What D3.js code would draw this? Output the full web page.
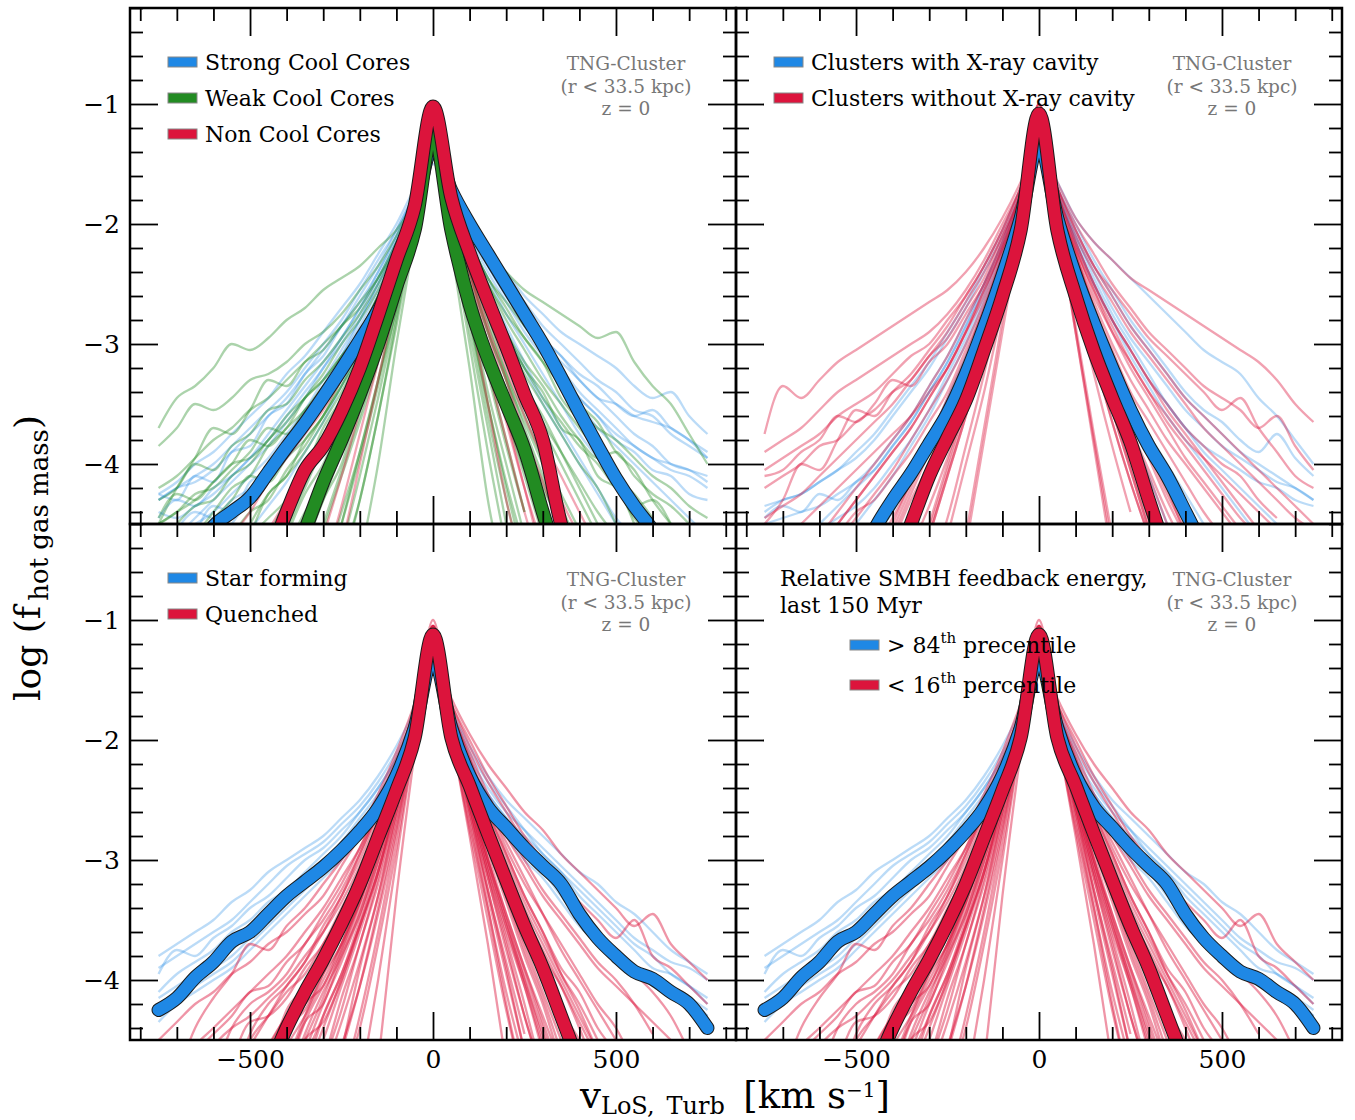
<!DOCTYPE html>
<html>
<head>
<meta charset="utf-8">
<script src="https://cdn.jsdelivr.net/npm/d3@7"></script>
<style>
  body { margin: 0; background: #fff; }
  svg text { font-family: "DejaVu Serif", serif; }
</style>
</head>
<body>
<svg id="chart" width="1355" height="1120"></svg>
<script>
// each profile: [value at v=0, [values at -50,-100,...], [values at +50,+100,...]]
// values are log(f_hot gas mass) per 50 km/s bin
var binWidth = 50;

// ---- top left: cool-core classes ----
var sccMedian = [-1.35, [-1.9,-2.4,-2.72,-2.97,-3.21,-3.44,-3.66,-3.86,-4.07,-4.28,-4.4,-4.52,-4.75], [-1.72,-2.0,-2.25,-2.5,-2.75,-3.0,-3.28,-3.57,-3.85,-4.12,-4.35,-4.55,-4.8]];
var wccMedian = [-1.22, [-2.05,-2.52,-3.0,-3.42,-3.8,-4.15,-4.55,-4.9], [-2.05,-2.67,-3.12,-3.5,-3.88,-4.4,-4.9]];
var nccMedian = [-1.02, [-1.85,-2.3,-2.76,-3.2,-3.56,-3.85,-4.05,-4.4,-4.8], [-1.78,-2.24,-2.64,-3.02,-3.42,-3.8,-4.5,-4.9]];

var sccLines = [
  [-1.4, [-1.75,-2.1,-2.4,-2.65,-2.85,-3.1,-3.25,-3.5,-3.6,-3.85,-3.9,-4.15,-4.1,-4.3,-4.25], [-1.7,-2.0,-2.3,-2.55,-2.8,-3.0,-3.2,-3.4,-3.55,-3.7,-3.85,-3.95,-4.05,-4.1,-4.2]],
  [-1.35, [-1.8,-2.2,-2.55,-2.85,-3.1,-3.35,-3.6,-3.8,-4.05,-4.15,-4.4,-4.35,-4.6], [-1.75,-2.1,-2.4,-2.65,-2.9,-3.1,-3.3,-3.5,-3.7,-3.85,-4.0,-4.15,-4.3,-4.45,-4.6]],
  [-1.3, [-1.85,-2.3,-2.7,-3.05,-3.35,-3.65,-3.9,-4.15,-4.35,-4.55], [-1.8,-2.2,-2.55,-2.85,-3.15,-3.45,-3.7,-3.95,-4.2,-4.45,-4.6]],
  [-1.45, [-1.7,-2.0,-2.25,-2.5,-2.7,-2.9,-3.1,-3.25,-3.45,-3.6,-3.75,-3.9,-4.0,-4.15,-4.25], [-1.7,-1.95,-2.2,-2.4,-2.6,-2.75,-2.9,-3.0,-3.1,-3.2,-3.35,-3.45,-3.4,-3.6,-3.75]],
  [-1.4, [-1.8,-2.15,-2.45,-2.75,-3.0,-3.2,-3.45,-3.65,-3.85,-4.0,-4.15,-4.3,-4.45,-4.6], [-1.75,-2.05,-2.35,-2.6,-2.85,-3.05,-3.25,-3.45,-3.6,-3.75,-3.85,-3.95,-4.0,-4.05,-4.15]],
  [-1.35, [-1.85,-2.25,-2.6,-2.95,-3.25,-3.5,-3.75,-3.95,-4.15,-4.3,-4.5], [-1.8,-2.2,-2.55,-2.9,-3.2,-3.5,-3.75,-4.0,-4.25,-4.5]],
  [-1.5, [-1.75,-2.05,-2.35,-2.6,-2.85,-3.05,-3.25,-3.45,-3.6,-3.75,-3.9,-4.05,-4.15,-4.2,-4.3], [-1.8,-2.1,-2.35,-2.6,-2.8,-3.0,-3.15,-3.3,-3.45,-3.5,-3.6,-3.65,-3.7,-3.8,-3.9]],
  [-1.35, [-1.8,-2.2,-2.5,-2.8,-3.05,-3.3,-3.55,-3.75,-3.95,-4.1,-4.25,-4.4,-4.5], [-1.75,-2.15,-2.45,-2.75,-3.0,-3.25,-3.5,-3.75,-3.95,-4.15,-4.35,-4.5]],
  [-1.4, [-1.8,-2.15,-2.5,-2.8,-3.1,-3.35,-3.6,-3.8,-4.0,-4.2,-4.3,-4.45,-4.4,-4.55], [-1.7,-2.0,-2.3,-2.55,-2.75,-2.95,-3.1,-3.3,-3.45,-3.6,-3.75,-3.85,-4.0,-4.05,-4.1]],
  [-1.45, [-1.75,-2.1,-2.4,-2.7,-2.95,-3.2,-3.4,-3.6,-3.8,-3.95,-4.1,-4.2,-4.35,-4.3,-4.45], [-1.75,-2.05,-2.35,-2.6,-2.85,-3.05,-3.25,-3.45,-3.6,-3.8,-3.9,-4.05,-4.1,-4.25,-4.3]],
  [-1.4, [-1.8,-2.15,-2.45,-2.7,-2.95,-3.15,-3.35,-3.55,-3.75,-3.95,-4.1,-4.25,-4.35,-4.45,-4.4], [-1.7,-2.0,-2.25,-2.45,-2.65,-2.85,-3.0,-3.15,-3.3,-3.4,-3.55,-3.6,-3.75,-3.85,-3.95]],
  [-1.45, [-1.75,-2.05,-2.3,-2.55,-2.8,-3.0,-3.2,-3.4,-3.55,-3.7,-3.85,-4.0,-4.1,-4.2,-4.3], [-1.75,-2.05,-2.3,-2.55,-2.75,-2.95,-3.1,-3.25,-3.35,-3.5,-3.6,-3.55,-3.7,-3.8,-3.95]]
];
var wccLines = [
  [-1.2, [-2.1,-3.0,-4.0,-4.8], [-2.2,-3.2,-4.3,-5.0]],
  [-1.25, [-2.0,-2.8,-3.6,-4.3,-4.9], [-2.1,-3.0,-3.9,-4.7]],
  [-1.3, [-2.0,-2.6,-3.3,-3.9,-4.4,-4.9], [-2.0,-2.8,-3.6,-4.3,-4.9]],
  [-1.2, [-1.95,-2.5,-3.05,-3.5,-4.0,-4.3,-4.7], [-2.0,-2.7,-3.4,-4.0,-4.6]],
  [-1.35, [-1.9,-2.4,-2.85,-3.3,-3.65,-4.0,-4.25,-4.6], [-1.9,-2.5,-3.1,-3.6,-4.1,-4.6]],
  [-1.3, [-1.85,-2.3,-2.7,-3.05,-3.3,-3.6,-3.8,-4.1,-4.25,-4.6], [-1.9,-2.4,-2.9,-3.3,-3.8,-4.15,-4.6]],
  [-1.4, [-1.85,-2.2,-2.45,-2.7,-2.85,-3.05,-3.15,-3.35,-3.3,-3.55,-3.75,-3.7,-3.95,-4.2,-4.5], [-1.85,-2.2,-2.5,-2.75,-2.95,-3.15,-3.45,-3.65,-3.95,-4.15,-4.5]],
  [-1.35, [-1.9,-2.25,-2.55,-2.8,-3.0,-3.25,-3.45,-3.7,-3.85,-4.1,-4.2,-4.4,-4.6], [-1.85,-2.15,-2.45,-2.65,-2.85,-3.05,-3.25,-3.5,-3.65,-3.9,-4.05,-4.3,-4.5]],
  [-1.3, [-1.95,-2.4,-2.8,-3.2,-3.5,-3.85,-4.2,-4.55], [-1.8,-2.05,-2.25,-2.4,-2.55,-2.65,-2.75,-2.85,-2.95,-2.9,-3.15,-3.35,-3.5,-3.75,-4.0]],
  [-1.25, [-2.0,-2.7,-3.3,-3.9,-4.5], [-1.9,-2.35,-2.8,-3.25,-3.7,-4.1,-4.5]],
  [-1.2, [-2.05,-2.85,-3.6,-4.3,-4.8], [-2.05,-2.9,-3.7,-4.5]],
  [-1.3, [-1.9,-2.35,-2.75,-3.1,-3.45,-3.7,-4.05,-4.3,-4.6], [-2.0,-2.6,-3.2,-3.8,-4.4]],
  [-1.4, [-1.8,-2.05,-2.2,-2.35,-2.45,-2.55,-2.7,-2.8,-2.95,-3.05,-3.0,-3.2,-3.35,-3.45,-3.7], [-1.9,-2.3,-2.7,-3.05,-3.35,-3.6,-3.9,-4.2,-4.5]],
  [-1.3, [-2.0,-2.5,-3.0,-3.45,-3.9,-4.3,-4.7], [-1.85,-2.25,-2.6,-2.9,-3.2,-3.4,-3.7,-3.8,-4.1,-4.2,-4.45,-4.6]],
  [-1.35, [-1.85,-2.15,-2.45,-2.65,-2.85,-3.0,-3.15,-3.3,-3.45,-3.55,-3.7,-3.8,-3.95,-4.1,-4.2], [-1.95,-2.5,-3.0,-3.5,-3.95,-4.4,-4.8]],
  [-1.3, [-1.9,-2.3,-2.6,-2.9,-3.1,-3.3,-3.45,-3.65,-3.8,-4.0,-4.1,-4.3,-4.35,-4.5], [-1.9,-2.35,-2.75,-3.1,-3.4,-3.7,-4.0,-4.3,-4.6]],
  [-1.25, [-1.95,-2.55,-3.1,-3.6,-4.05,-4.5], [-1.95,-2.55,-3.1,-3.55,-4.0,-4.45]],
  [-1.3, [-1.9,-2.4,-2.85,-3.25,-3.55,-3.85,-4.1,-4.3,-4.45,-4.6], [-1.95,-2.5,-3.0,-3.45,-3.85,-4.2,-4.5]],
  [-1.35, [-1.85,-2.25,-2.6,-2.9,-3.15,-3.35,-3.55,-3.7,-3.85,-3.8,-4.0,-4.15,-4.3,-4.4,-4.5], [-1.85,-2.25,-2.6,-2.9,-3.15,-3.35,-3.6,-3.8,-3.95,-3.9,-4.1,-4.25,-4.35,-4.5]],
  [-1.2, [-2.0,-2.75,-3.45,-4.1,-4.7], [-2.0,-2.75,-3.5,-4.2,-4.8]],
  [-1.2, [-2.0,-2.7,-3.35,-3.95,-4.5], [-2.05,-2.8,-3.5,-4.15,-4.7]],
  [-1.25, [-1.95,-2.55,-3.15,-3.65,-4.1,-4.55], [-2.0,-2.65,-3.25,-3.85,-4.4]],
  [-1.3, [-1.9,-2.45,-2.95,-3.4,-3.75,-4.15,-4.4,-4.7], [-1.95,-2.55,-3.1,-3.6,-4.05,-4.5]],
  [-1.35, [-1.85,-2.3,-2.7,-3.05,-3.35,-3.6,-3.85,-4.05,-4.3,-4.4,-4.6], [-1.9,-2.4,-2.85,-3.25,-3.6,-3.95,-4.25,-4.55]],
  [-1.3, [-1.9,-2.35,-2.75,-3.1,-3.4,-3.65,-3.9,-4.1,-4.25,-4.5], [-1.85,-2.3,-2.7,-3.05,-3.35,-3.65,-3.9,-4.15,-4.4,-4.6]],
  [-1.35, [-1.85,-2.2,-2.5,-2.75,-2.95,-3.15,-3.3,-3.5,-3.55,-3.75,-3.85,-4.05,-4.0,-4.2,-4.3], [-1.9,-2.3,-2.65,-2.95,-3.25,-3.5,-3.75,-4.0,-4.2,-4.5]],
  [-1.3, [-1.9,-2.3,-2.65,-2.95,-3.2,-3.4,-3.55,-3.75,-3.7,-3.9,-4.05,-4.2,-4.25,-4.4,-4.5], [-1.95,-2.45,-2.9,-3.3,-3.65,-4.0,-4.35,-4.7]],
  [-1.4, [-1.8,-2.1,-2.35,-2.55,-2.75,-2.9,-3.0,-3.15,-3.25,-3.3,-3.45,-3.55,-3.5,-3.7,-3.85], [-1.85,-2.2,-2.5,-2.8,-3.05,-3.3,-3.5,-3.7,-3.9,-4.1,-4.25,-4.45]],
  [-1.3, [-1.9,-2.35,-2.75,-3.1,-3.35,-3.6,-3.8,-3.95,-4.15,-4.1,-4.3,-4.45,-4.6], [-1.85,-2.25,-2.6,-2.95,-3.2,-3.45,-3.65,-3.85,-4.0,-4.2,-4.35,-4.3,-4.5]],
  [-1.35, [-1.85,-2.25,-2.6,-2.9,-3.1,-3.3,-3.45,-3.6,-3.8,-3.95,-4.0,-4.15,-4.3,-4.25,-4.45], [-1.8,-2.15,-2.45,-2.7,-2.95,-3.15,-3.35,-3.55,-3.7,-3.8,-3.95,-4.1,-4.2,-4.35,-4.45]]
];
var nccLines = [
  [-1.05, [-1.8,-2.4,-3.0,-3.55,-4.1,-4.6], [-1.8,-2.4,-3.0,-3.6,-4.2,-4.8]],
  [-1.1, [-1.85,-2.3,-2.75,-3.15,-3.5,-3.8,-4.1,-4.35,-4.6], [-1.8,-2.3,-2.75,-3.2,-3.6,-3.95,-4.3,-4.6]],
  [-1.0, [-1.9,-2.6,-3.3,-4.0,-4.7], [-1.9,-2.7,-3.5,-4.3,-4.9]],
  [-1.15, [-1.8,-2.25,-2.65,-3.0,-3.3,-3.55,-3.75,-3.95,-4.15,-4.4,-4.6], [-1.85,-2.4,-2.9,-3.4,-3.85,-4.3,-4.7]],
  [-1.05, [-1.85,-2.45,-3.0,-3.45,-3.85,-4.2,-4.6], [-1.75,-2.25,-2.7,-3.1,-3.45,-3.8,-4.1,-4.4,-4.7]],
  [-1.1, [-1.9,-2.55,-3.15,-3.75,-4.35,-4.9], [-1.85,-2.5,-3.1,-3.65,-4.2,-4.7]],
  [-1.1, [-1.85,-2.35,-2.8,-3.2,-3.5,-3.8,-4.05,-4.3,-4.55], [-1.9,-2.55,-3.2,-3.8,-4.4,-4.9]],
  [-1.05, [-1.85,-2.4,-2.9,-3.35,-3.75,-4.15,-4.5], [-1.8,-2.35,-2.85,-3.3,-3.75,-4.15,-4.55]]
];

// ---- top right: X-ray cavity ----
var cavMedian = [-1.32, [-1.95,-2.43,-2.86,-3.25,-3.58,-3.83,-4.08,-4.3,-4.55,-4.9], [-1.95,-2.43,-2.83,-3.2,-3.55,-3.85,-4.1,-4.4,-4.7]];
var noCavMedian = [-1.08, [-2.05,-2.6,-3.05,-3.47,-3.78,-4.1,-4.5,-4.9], [-2.05,-2.6,-3.06,-3.45,-3.82,-4.3,-4.75]];

var cavLines = [
  [-1.3, [-1.8,-2.3,-2.75,-3.15,-3.5,-3.8,-4.05,-4.3,-4.5], [-1.8,-2.3,-2.7,-3.1,-3.45,-3.75,-4.0,-4.25,-4.5]],
  [-1.35, [-1.75,-2.15,-2.5,-2.85,-3.15,-3.4,-3.65,-3.85,-4.05,-4.2,-4.35,-4.5], [-1.75,-2.15,-2.5,-2.8,-3.1,-3.35,-3.6,-3.8,-4.0,-4.2,-4.4,-4.6]],
  [-1.25, [-1.85,-2.4,-2.9,-3.35,-3.75,-4.1,-4.45,-4.7], [-1.85,-2.35,-2.85,-3.3,-3.7,-4.1,-4.5]],
  [-1.4, [-1.7,-2.05,-2.35,-2.65,-2.9,-3.15,-3.35,-3.55,-3.75,-3.9,-4.05,-4.15,-4.25,-4.3,-4.35], [-1.65,-1.95,-2.15,-2.3,-2.45,-2.6,-2.75,-2.9,-3.05,-3.15,-3.25,-3.45,-3.6,-3.8,-4.0]],
  [-1.35, [-1.8,-2.2,-2.6,-2.95,-3.25,-3.55,-3.8,-4.0,-4.2,-4.35,-4.45,-4.55], [-1.7,-2.05,-2.35,-2.6,-2.85,-3.05,-3.25,-3.45,-3.6,-3.75,-3.9,-4.0,-4.1,-4.2,-4.3]],
  [-1.3, [-1.85,-2.3,-2.7,-3.1,-3.45,-3.8,-4.1,-4.4,-4.6], [-1.9,-2.45,-2.95,-3.4,-3.8,-4.2,-4.6]],
  [-1.45, [-1.75,-2.1,-2.4,-2.7,-2.95,-3.2,-3.4,-3.6,-3.8,-3.95,-4.05,-4.15,-4.25,-4.3,-4.4], [-1.75,-2.1,-2.4,-2.7,-2.95,-3.15,-3.35,-3.55,-3.7,-3.85,-3.95,-4.05,-4.15,-4.2,-4.3]],
  [-1.3, [-1.8,-2.25,-2.65,-3.0,-3.3,-3.6,-3.85,-4.1,-4.3,-4.5], [-1.75,-2.1,-2.45,-2.75,-3.0,-3.25,-3.5,-3.7,-3.9,-4.05,-4.2,-4.35,-4.5]],
  [-1.4, [-1.75,-2.15,-2.5,-2.8,-3.1,-3.35,-3.6,-3.8,-4.0,-4.15,-4.25,-4.35,-4.4,-4.45,-4.5], [-1.75,-2.15,-2.5,-2.8,-3.05,-3.3,-3.5,-3.7,-3.85,-3.95,-4.05,-4.15,-4.2,-4.3,-4.35]],
  [-1.35, [-1.8,-2.2,-2.55,-2.85,-3.15,-3.4,-3.65,-3.85,-4.05,-4.15,-4.3,-4.25,-4.4,-4.35,-4.45], [-1.7,-2.0,-2.3,-2.55,-2.8,-3.0,-3.2,-3.4,-3.55,-3.65,-3.8,-3.9,-3.75,-3.95,-4.1]]
];
var noCavLines = [
  [-1.0, [-1.9,-2.8,-3.7,-4.6], [-1.95,-2.9,-3.85,-4.8]],
  [-1.05, [-2.0,-2.9,-3.8,-4.7], [-1.85,-2.5,-3.1,-3.65,-4.15,-4.6]],
  [-1.1, [-1.85,-2.45,-3.05,-3.6,-4.1,-4.6], [-2.0,-2.85,-3.75,-4.6]],
  [-1.0, [-1.8,-2.4,-2.95,-3.5,-4.0,-4.5], [-1.8,-2.4,-3.0,-3.55,-4.05,-4.55]],
  [-1.15, [-1.9,-2.5,-3.05,-3.6,-4.1,-4.6], [-1.8,-2.3,-2.75,-3.15,-3.5,-3.85,-4.2,-4.6]],
  [-1.05, [-1.8,-2.3,-2.7,-3.1,-3.45,-3.8,-4.15,-4.5], [-1.9,-2.5,-3.1,-3.65,-4.15,-4.6]],
  [-1.1, [-1.85,-2.35,-2.8,-3.2,-3.55,-3.85,-4.15,-4.45,-4.7], [-1.85,-2.35,-2.8,-3.2,-3.55,-3.9,-4.25,-4.55]],
  [-1.2, [-1.8,-2.3,-2.75,-3.15,-3.5,-3.85,-4.2,-4.55], [-1.75,-2.2,-2.6,-2.9,-3.2,-3.45,-3.7,-3.95,-4.15,-4.35,-4.55]],
  [-1.15, [-1.75,-2.2,-2.55,-2.9,-3.2,-3.45,-3.7,-3.9,-4.1,-4.3,-4.5], [-1.9,-2.4,-2.85,-3.25,-3.6,-3.95,-4.3,-4.6]],
  [-1.2, [-1.75,-2.15,-2.5,-2.8,-3.1,-3.35,-3.6,-3.8,-4.0,-4.2,-4.4,-4.6], [-1.75,-2.15,-2.5,-2.8,-3.05,-3.3,-3.55,-3.75,-3.95,-4.15,-4.35,-4.55]],
  [-1.25, [-1.7,-2.05,-2.35,-2.6,-2.85,-3.05,-3.25,-3.4,-3.6,-3.55,-3.8,-4.05,-4.0,-4.3,-4.5], [-1.8,-2.2,-2.55,-2.85,-3.15,-3.4,-3.65,-3.85,-4.05,-4.25,-4.45,-4.6]],
  [-1.2, [-1.8,-2.2,-2.55,-2.9,-3.2,-3.45,-3.7,-3.9,-4.1,-4.3,-4.5], [-1.7,-2.05,-2.35,-2.6,-2.85,-3.05,-3.25,-3.45,-3.6,-3.75,-3.9,-4.05,-4.2,-4.35,-4.5]],
  [-1.3, [-1.65,-1.95,-2.2,-2.4,-2.55,-2.65,-2.75,-2.85,-2.95,-3.05,-3.15,-3.3,-3.45,-3.35,-3.75], [-1.75,-2.1,-2.4,-2.65,-2.9,-3.1,-3.3,-3.5,-3.7,-3.85,-4.0,-4.15,-4.3,-4.45,-4.55]],
  [-1.3, [-1.75,-2.1,-2.4,-2.65,-2.9,-3.1,-3.3,-3.5,-3.65,-3.8,-3.95,-4.1,-4.25,-4.35,-4.45], [-1.65,-1.95,-2.15,-2.3,-2.45,-2.55,-2.65,-2.75,-2.85,-2.95,-3.05,-3.15,-3.3,-3.5,-3.65]],
  [-1.35, [-1.7,-2.0,-2.3,-2.55,-2.75,-2.9,-3.0,-3.1,-3.2,-3.3,-3.4,-3.55,-3.7,-3.8,-3.9], [-1.7,-2.0,-2.25,-2.5,-2.7,-2.9,-3.05,-3.2,-3.35,-3.45,-3.55,-3.7,-3.6,-3.85,-4.05]],
  [-1.05, [-1.85,-2.45,-3.0,-3.55,-4.05,-4.55], [-1.8,-2.25,-2.65,-3.0,-3.3,-3.55,-3.8,-4.0,-4.2,-4.4,-4.6]],
  [-1.1, [-1.8,-2.25,-2.65,-3.0,-3.3,-3.55,-3.8,-4.05,-4.25,-4.45,-4.65], [-1.85,-2.45,-3.0,-3.55,-4.05,-4.55]],
  [-1.0, [-1.85,-2.4,-2.9,-3.35,-3.75,-4.1,-4.45,-4.75], [-1.95,-2.9,-3.8,-4.7]],
  [-1.25, [-1.75,-2.1,-2.45,-2.7,-2.95,-3.1,-3.3,-3.4,-3.55,-3.65,-3.8,-3.85,-4.0,-4.1,-4.2], [-1.8,-2.25,-2.7,-3.1,-3.45,-3.8,-4.15,-4.5]],
  [-1.2, [-1.8,-2.2,-2.6,-2.9,-3.2,-3.4,-3.6,-3.75,-3.9,-4.05,-4.2,-4.35,-4.5], [-1.8,-2.2,-2.55,-2.9,-3.15,-3.4,-3.6,-3.8,-3.95,-4.1,-4.25,-4.4,-4.55]],
  [-1.1, [-1.9,-2.6,-3.25,-3.85,-4.45,-4.9], [-1.85,-2.4,-2.9,-3.4,-3.85,-4.3,-4.75]],
  [-1.15, [-1.85,-2.35,-2.8,-3.2,-3.55,-3.9,-4.25,-4.6], [-1.85,-2.45,-3.0,-3.5,-4.0,-4.5]],
  [-1.1, [-1.9,-2.5,-3.05,-3.5,-3.95,-4.35,-4.7], [-1.9,-2.5,-3.05,-3.5,-3.95,-4.4,-4.8]],
  [-1.15, [-1.85,-2.35,-2.8,-3.2,-3.55,-3.8,-4.1,-4.3,-4.6], [-1.85,-2.4,-2.9,-3.35,-3.75,-4.1,-4.5]],
  [-1.05, [-1.95,-2.7,-3.4,-4.0,-4.6], [-1.9,-2.6,-3.25,-3.85,-4.4]],
  [-1.2, [-1.8,-2.25,-2.7,-3.05,-3.4,-3.65,-3.9,-4.1,-4.3,-4.4,-4.6], [-1.8,-2.3,-2.75,-3.15,-3.5,-3.8,-4.1,-4.4,-4.7]],
  [-1.25, [-1.75,-2.15,-2.5,-2.75,-3.0,-3.15,-3.35,-3.3,-3.5,-3.65,-3.6,-3.8,-3.9,-4.05,-4.1], [-1.75,-2.15,-2.5,-2.8,-3.05,-3.3,-3.5,-3.7,-3.85,-4.0,-4.1,-4.3,-4.45]],
  [-1.3, [-1.7,-2.05,-2.35,-2.6,-2.8,-3.0,-3.1,-3.25,-3.4,-3.5,-3.6,-3.75,-3.85,-3.95,-4.05], [-1.7,-2.05,-2.35,-2.55,-2.75,-2.95,-3.1,-3.25,-3.4,-3.55,-3.45,-3.7,-3.9,-4.1,-4.2]],
  [-1.1, [-1.9,-2.45,-2.95,-3.4,-3.8,-4.15,-4.5], [-1.85,-2.35,-2.85,-3.3,-3.7,-4.05,-4.4,-4.7]],
  [-1.15, [-1.85,-2.4,-2.85,-3.3,-3.65,-4.0,-4.3,-4.65], [-1.8,-2.25,-2.7,-3.05,-3.4,-3.65,-3.9,-4.15,-4.4,-4.6]]
];

// ---- bottom: star forming / quenched, and SMBH feedback percentiles ----
var sfMedian = [-1.3, [-1.9,-2.3,-2.57,-2.76,-2.92,-3.06,-3.18,-3.3,-3.45,-3.6,-3.68,-3.85,-3.98,-4.15,-4.25], [-1.9,-2.3,-2.56,-2.73,-2.9,-3.05,-3.2,-3.45,-3.65,-3.8,-3.93,-3.99,-4.1,-4.2,-4.4]];
var qMedian = [-1.12, [-1.98,-2.42,-2.81,-3.2,-3.53,-3.83,-4.1,-4.4,-4.75], [-1.98,-2.38,-2.78,-3.17,-3.55,-3.9,-4.3,-4.7]];

var sfLines = [
  [-1.3, [-1.85,-2.2,-2.45,-2.65,-2.85,-3.0,-3.15,-3.3,-3.45,-3.6,-3.75,-3.85,-3.95,-4.05,-4.15], [-1.85,-2.2,-2.45,-2.65,-2.85,-3.05,-3.2,-3.4,-3.6,-3.75,-3.9,-4.0,-4.1,-4.15,-4.25]],
  [-1.35, [-1.8,-2.1,-2.35,-2.55,-2.7,-2.85,-2.95,-3.05,-3.2,-3.35,-3.5,-3.6,-3.7,-3.8,-3.9], [-1.8,-2.15,-2.4,-2.6,-2.75,-2.9,-3.05,-3.2,-3.35,-3.5,-3.65,-3.75,-3.85,-3.9,-4.0]],
  [-1.25, [-1.9,-2.3,-2.55,-2.75,-2.95,-3.1,-3.25,-3.4,-3.55,-3.7,-3.85,-3.95,-4.05,-4.15,-4.25], [-1.9,-2.3,-2.55,-2.8,-3.0,-3.15,-3.35,-3.55,-3.7,-3.85,-3.95,-4.05,-4.15,-4.25,-4.35]],
  [-1.4, [-1.75,-2.05,-2.3,-2.5,-2.65,-2.8,-2.9,-3.0,-3.1,-3.25,-3.35,-3.5,-3.6,-3.7,-3.8], [-1.75,-2.05,-2.3,-2.5,-2.65,-2.8,-2.95,-3.1,-3.2,-3.35,-3.45,-3.6,-3.75,-3.85,-3.95]],
  [-1.35, [-1.85,-2.2,-2.5,-2.7,-2.9,-3.05,-3.2,-3.35,-3.5,-3.65,-3.8,-3.9,-4.0,-4.1,-4.2], [-1.8,-2.2,-2.5,-2.7,-2.9,-3.1,-3.25,-3.45,-3.6,-3.75,-3.9,-4.0,-4.05,-4.15,-4.3]],
  [-1.3, [-1.8,-2.15,-2.4,-2.6,-2.8,-2.95,-3.1,-3.25,-3.35,-3.5,-3.6,-3.75,-3.85,-3.95,-4.1], [-1.85,-2.25,-2.5,-2.75,-2.95,-3.1,-3.3,-3.5,-3.65,-3.8,-3.9,-4.0,-4.1,-4.2,-4.3]],
  [-1.4, [-1.9,-2.25,-2.55,-2.8,-3.0,-3.15,-3.3,-3.45,-3.6,-3.75,-3.9,-4.0,-4.1,-4.2,-4.35], [-1.75,-2.1,-2.35,-2.55,-2.75,-2.95,-3.1,-3.25,-3.4,-3.55,-3.7,-3.8,-3.95,-4.05,-4.15]],
  [-1.35, [-1.8,-2.15,-2.4,-2.6,-2.75,-2.9,-3.0,-3.15,-3.3,-3.4,-3.55,-3.65,-3.8,-3.75,-3.95], [-1.8,-2.2,-2.45,-2.65,-2.8,-2.95,-3.1,-3.3,-3.45,-3.6,-3.75,-3.9,-3.95,-4.05,-4.2]]
];
var qLines = [
  [-1.05, [-2.1,-3.3,-4.7], [-1.95,-2.8,-3.7,-4.7]],
  [-1.1, [-2.0,-3.0,-4.0,-4.9], [-1.9,-2.65,-3.4,-4.2,-4.9]],
  [-1.0, [-1.95,-2.8,-3.6,-4.3,-4.9], [-1.9,-2.6,-3.25,-3.9,-4.6]],
  [-1.15, [-1.9,-2.6,-3.3,-3.9,-4.6], [-1.85,-2.5,-3.1,-3.65,-4.2,-4.8]],
  [-1.1, [-1.9,-2.55,-3.15,-3.7,-4.15,-4.7], [-1.85,-2.45,-3.0,-3.5,-4.0,-4.45,-4.9]],
  [-1.05, [-1.85,-2.45,-3.0,-3.5,-3.95,-4.3,-4.8], [-1.9,-2.5,-3.05,-3.55,-4.05,-4.6]],
  [-1.15, [-1.85,-2.4,-2.9,-3.35,-3.75,-4.05,-4.35,-4.8], [-1.8,-2.35,-2.85,-3.3,-3.7,-4.1,-4.5]],
  [-1.1, [-1.9,-2.45,-2.95,-3.4,-3.8,-4.1,-4.45,-4.9], [-1.85,-2.4,-2.9,-3.35,-3.8,-4.2,-4.7]],
  [-1.2, [-1.8,-2.3,-2.75,-3.15,-3.5,-3.75,-4.05,-4.25,-4.7], [-1.8,-2.3,-2.75,-3.15,-3.55,-3.9,-4.3,-4.8]],
  [-1.15, [-1.85,-2.35,-2.8,-3.2,-3.55,-3.85,-4.1,-4.3,-4.55,-4.9], [-1.75,-2.2,-2.6,-2.95,-3.3,-3.6,-3.95,-4.25,-4.6]],
  [-1.2, [-1.8,-2.25,-2.65,-3.0,-3.3,-3.6,-3.85,-4.05,-4.2,-4.45,-4.9], [-1.85,-2.45,-3.0,-3.5,-3.95,-4.4,-4.9]],
  [-1.25, [-1.75,-2.2,-2.6,-2.95,-3.25,-3.5,-3.7,-3.95,-4.1,-4.2,-4.4,-4.8], [-1.75,-2.15,-2.55,-2.85,-3.15,-3.45,-3.75,-4.0,-4.25,-4.5]],
  [-1.3, [-1.7,-2.1,-2.45,-2.75,-3.0,-3.2,-3.4,-3.55,-3.75,-3.7,-3.95,-4.15,-4.4,-4.8], [-1.7,-2.05,-2.35,-2.6,-2.85,-3.05,-3.25,-3.45,-3.6,-3.8,-3.95,-4.1,-4.3,-4.6]],
  [-1.25, [-1.75,-2.15,-2.5,-2.8,-3.05,-3.3,-3.45,-3.6,-3.7,-3.85,-3.95,-4.1,-4.2,-4.35,-4.5], [-1.65,-1.95,-2.2,-2.4,-2.6,-2.75,-2.95,-3.1,-3.25,-3.4,-3.55,-3.45,-3.7,-3.85,-4.0]],
  [-1.05, [-1.95,-2.7,-3.4,-4.05,-4.6], [-1.95,-2.75,-3.5,-4.25,-4.9]],
  [-1.1, [-1.9,-2.5,-3.1,-3.6,-4.05,-4.5,-4.9], [-1.8,-2.3,-2.75,-3.15,-3.55,-3.95,-4.3,-4.7]],
  [-1.2, [-1.85,-2.35,-2.85,-3.25,-3.6,-3.9,-4.2,-4.45,-4.8], [-1.75,-2.2,-2.55,-2.9,-3.2,-3.45,-3.7,-3.95,-4.2,-4.4,-4.7]],
  [-1.3, [-1.8,-2.25,-2.6,-2.9,-3.15,-3.4,-3.6,-3.8,-3.95,-4.1,-4.25,-4.4,-4.55,-4.8], [-1.7,-2.0,-2.3,-2.55,-2.8,-3.0,-3.2,-3.35,-3.5,-3.65,-3.5,-3.8,-3.9,-4.05,-4.2]],
  [-1.15, [-1.85,-2.4,-2.85,-3.25,-3.6,-3.95,-4.3,-4.7], [-1.9,-2.55,-3.15,-3.75,-4.3,-4.8]],
  [-1.1, [-1.9,-2.5,-3.05,-3.55,-4.0,-4.4,-4.8], [-1.85,-2.4,-2.95,-3.45,-3.9,-4.35,-4.8]],
  [-1.25, [-1.8,-2.3,-2.7,-3.05,-3.35,-3.6,-3.8,-4.0,-4.15,-4.3,-4.4,-4.55,-4.8], [-1.8,-2.3,-2.7,-3.05,-3.4,-3.7,-4.0,-4.3,-4.6]],
  [-1.2, [-1.8,-2.3,-2.75,-3.1,-3.45,-3.7,-3.95,-4.1,-4.3,-4.5,-4.85], [-1.75,-2.15,-2.5,-2.8,-3.05,-3.3,-3.5,-3.7,-3.9,-4.05,-4.2,-4.35,-4.5]],
  [-1.1, [-1.85,-2.45,-3.0,-3.45,-3.85,-4.2,-4.6], [-1.9,-2.6,-3.3,-3.95,-4.6]],
  [-1.15, [-1.8,-2.35,-2.85,-3.3,-3.7,-4.0,-4.3,-4.55,-4.85], [-1.85,-2.45,-3.0,-3.45,-3.9,-4.3,-4.7]],
  [-1.2, [-1.85,-2.4,-2.9,-3.35,-3.75,-4.15,-4.5], [-1.8,-2.25,-2.65,-3.0,-3.35,-3.65,-3.95,-4.2,-4.5]],
  [-1.25, [-1.75,-2.2,-2.6,-2.95,-3.3,-3.55,-3.85,-4.05,-4.3,-4.55], [-1.75,-2.1,-2.45,-2.75,-3.0,-3.25,-3.45,-3.65,-3.85,-4.0,-4.2,-4.45]],
  [-1.1, [-1.95,-2.75,-3.45,-4.05,-4.55], [-1.9,-2.55,-3.15,-3.7,-4.3,-4.8]],
  [-1.15, [-1.9,-2.6,-3.2,-3.7,-4.25,-4.7], [-1.85,-2.45,-3.05,-3.55,-4.0,-4.5]],
  [-1.05, [-1.95,-2.65,-3.3,-3.85,-4.35,-4.8], [-1.95,-2.7,-3.4,-4.1,-4.7]],
  [-1.2, [-1.85,-2.45,-2.95,-3.45,-3.8,-4.2,-4.35,-4.75], [-1.8,-2.35,-2.85,-3.3,-3.75,-4.15,-4.6]],
  [-1.15, [-1.85,-2.4,-2.9,-3.3,-3.7,-3.95,-4.25,-4.4,-4.7], [-1.85,-2.4,-2.85,-3.25,-3.65,-3.95,-4.35,-4.8]],
  [-1.25, [-1.8,-2.3,-2.7,-3.1,-3.4,-3.7,-3.9,-4.15,-4.3,-4.35,-4.7], [-1.75,-2.25,-2.7,-3.05,-3.45,-3.75,-4.05,-4.4,-4.8]],
  [-1.1, [-1.9,-2.5,-3.1,-3.55,-4.0,-4.35,-4.5,-4.9], [-1.9,-2.5,-3.1,-3.6,-4.05,-4.55]],
  [-1.2, [-1.8,-2.3,-2.8,-3.2,-3.6,-3.85,-4.15,-4.3,-4.55,-4.7], [-1.8,-2.3,-2.75,-3.15,-3.45,-3.8,-4.05,-4.35,-4.65]],
  [-1.15, [-1.9,-2.55,-3.1,-3.55,-3.95,-4.3,-4.65], [-1.85,-2.35,-2.8,-3.2,-3.6,-3.95,-4.25,-4.5,-4.8]],
  [-1.3, [-1.75,-2.2,-2.55,-2.9,-3.2,-3.45,-3.7,-3.85,-4.05,-4.1,-4.3,-4.45,-4.6], [-1.75,-2.2,-2.6,-2.95,-3.3,-3.6,-3.9,-4.1,-4.4,-4.6]],
  [-1.05, [-2.0,-2.9,-3.7,-4.4,-4.9], [-1.9,-2.55,-3.25,-3.85,-4.45]],
  [-1.2, [-1.85,-2.4,-2.9,-3.35,-3.7,-4.05,-4.2,-4.5,-4.85], [-1.8,-2.3,-2.8,-3.25,-3.65,-4.0,-4.3,-4.6]]
];

// axis setup
var xDomain = [-828, 828];
var yDomain = [-4.5, -0.2];
var xMajor = [-500, 0, 500];
var xMinor = [-800, -700, -600, -400, -300, -200, -100, 100, 200, 300, 400, 600, 700, 800];
var yMajor = [-4, -3, -2, -1];
var yMinor = [-4.4, -4.2, -3.8, -3.6, -3.4, -3.2, -2.8, -2.6, -2.4, -2.2, -1.8, -1.6, -1.4, -1.2, -0.8, -0.6, -0.4, -0.2];

var BLUE = "#1f88e5", GREEN = "#228b22", RED = "#dc143c";

var panels = [
  { col: 0, row: 0,
    groups: [[BLUE, sccLines, sccMedian, 0.3], [GREEN, wccLines, wccMedian, 0.38], [RED, nccLines, nccMedian, 0.38]],
    legend: [[BLUE, "Strong Cool Cores"], [GREEN, "Weak Cool Cores"], [RED, "Non Cool Cores"]] },
  { col: 1, row: 0,
    groups: [[BLUE, cavLines, cavMedian, 0.3], [RED, noCavLines, noCavMedian, 0.4]],
    legend: [[BLUE, "Clusters with X-ray cavity"], [RED, "Clusters without X-ray cavity"]] },
  { col: 0, row: 1,
    groups: [[BLUE, sfLines, sfMedian, 0.3], [RED, qLines, qMedian, 0.45]],
    legend: [[BLUE, "Star forming"], [RED, "Quenched"]] },
  { col: 1, row: 1,
    groups: [[BLUE, sfLines, sfMedian, 0.3], [RED, qLines, qMedian, 0.45]],
    legend: null }
];

var W = 606, H = 516, left0 = 130, top0 = 8;
var svg = d3.select("#chart");
var defs = svg.append("defs");

// turn [peak, left, right] into [v, value] points
function toPoints(p) {
  var pts = [];
  for (var i = p[1].length - 1; i >= 0; i--) pts.push([-(i + 1) * binWidth, p[1][i]]);
  pts.push([0, p[0]]);
  p[2].forEach(function(v, i) { pts.push([(i + 1) * binWidth, v]); });
  return pts;
}

panels.forEach(function(p, pi) {
  var px = left0 + p.col * W, py = top0 + p.row * H;
  var x = d3.scaleLinear().domain(xDomain).range([px, px + W]);
  var y = d3.scaleLinear().domain(yDomain).range([py + H, py]);
  var line = d3.line()
    .x(function(d) { return x(d[0]); })
    .y(function(d) { return y(d[1]); })
    .curve(d3.curveMonotoneX);

  defs.append("clipPath").attr("id", "clip" + pi)
    .append("rect").attr("x", px).attr("y", py).attr("width", W).attr("height", H);
  var g = svg.append("g").attr("clip-path", "url(#clip" + pi + ")");

  // individual clusters
  p.groups.forEach(function(gr) {
    g.append("g").selectAll("path").data(gr[1]).enter().append("path")
      .attr("d", function(d) { return line(toPoints(d)); })
      .attr("fill", "none")
      .attr("stroke", gr[0])
      .attr("stroke-opacity", gr[3])
      .attr("stroke-width", 2.3)
      .attr("stroke-linejoin", "round");
  });
  // medians with dark outline
  p.groups.forEach(function(gr) {
    var d = line(toPoints(gr[2]));
    g.append("path").attr("d", d).attr("fill", "none")
      .attr("stroke", "#1a1a1a").attr("stroke-width", 14)
      .attr("stroke-linejoin", "round").attr("stroke-linecap", "round");
    g.append("path").attr("d", d).attr("fill", "none")
      .attr("stroke", gr[0]).attr("stroke-width", 12)
      .attr("stroke-linejoin", "round").attr("stroke-linecap", "round");
  });

  // ticks on all four sides, pointing inwards
  var fmt = d3.format("d");
  var axes = svg.append("g").attr("class", "axes");
  axes.append("g").attr("transform", "translate(0," + (py + H) + ")")
    .call(d3.axisBottom(x).tickValues(xMajor).tickSize(-28).tickPadding(10).tickFormat(p.row == 1 ? fmt : ""));
  axes.append("g").attr("transform", "translate(0," + (py + H) + ")")
    .call(d3.axisBottom(x).tickValues(xMinor).tickSize(-13).tickFormat(""));
  axes.append("g").attr("transform", "translate(0," + py + ")")
    .call(d3.axisTop(x).tickValues(xMajor).tickSize(-28).tickFormat(""));
  axes.append("g").attr("transform", "translate(0," + py + ")")
    .call(d3.axisTop(x).tickValues(xMinor).tickSize(-13).tickFormat(""));
  axes.append("g").attr("transform", "translate(" + px + ",0)")
    .call(d3.axisLeft(y).tickValues(yMajor).tickSize(-28).tickPadding(10).tickFormat(p.col == 0 ? fmt : ""));
  axes.append("g").attr("transform", "translate(" + px + ",0)")
    .call(d3.axisLeft(y).tickValues(yMinor).tickSize(-13).tickFormat(""));
  axes.append("g").attr("transform", "translate(" + (px + W) + ",0)")
    .call(d3.axisRight(y).tickValues(yMajor).tickSize(-28).tickFormat(""));
  axes.append("g").attr("transform", "translate(" + (px + W) + ",0)")
    .call(d3.axisRight(y).tickValues(yMinor).tickSize(-13).tickFormat(""));
  axes.selectAll(".domain").remove();
  axes.selectAll(".tick line").attr("stroke", "#000").attr("stroke-width", 1.8);
  axes.selectAll(".tick text").attr("font-size", 25).attr("fill", "#000")
    .style("font-family", "'DejaVu Serif', serif");

  svg.append("rect").attr("x", px).attr("y", py).attr("width", W).attr("height", H)
    .attr("fill", "none").attr("stroke", "#000").attr("stroke-width", 2.5);

  // simulation note
  var note = svg.append("text").attr("text-anchor", "middle").attr("fill", "#777").attr("font-size", 18.5);
  ["TNG-Cluster", "(r < 33.5 kpc)", "z = 0"].forEach(function(t, i) {
    note.append("tspan").attr("x", px + 496).attr("y", py + 62 + i * 22.5).text(t);
  });

  // legend
  if (p.legend) {
    p.legend.forEach(function(it, i) {
      var ly = py + 54 + i * 36;
      svg.append("rect").attr("x", px + 38).attr("y", ly - 5).attr("width", 29).attr("height", 10)
        .attr("fill", it[0]).attr("stroke", "#888").attr("stroke-width", 1);
      svg.append("text").attr("x", px + 75).attr("y", ly + 8).attr("font-size", 22).attr("fill", "#000").text(it[1]);
    });
  }
});

// legend of the SMBH feedback panel
var bx = left0 + W, by = top0 + H;
svg.append("text").attr("x", bx + 44).attr("y", by + 62).attr("font-size", 22).text("Relative SMBH feedback energy,");
svg.append("text").attr("x", bx + 44).attr("y", by + 89).attr("font-size", 22).text("last 150 Myr");
[[BLUE, "> 84", " precentile"], [RED, "< 16", " percentile"]].forEach(function(it, i) {
  var ly = by + 121 + i * 40;
  svg.append("rect").attr("x", bx + 114).attr("y", ly - 5).attr("width", 29).attr("height", 10)
    .attr("fill", it[0]).attr("stroke", "#888").attr("stroke-width", 1);
  var t = svg.append("text").attr("x", bx + 151).attr("y", ly + 8).attr("font-size", 22);
  t.append("tspan").text(it[1]);
  t.append("tspan").attr("font-size", 15).attr("dy", -10).text("th");
  t.append("tspan").attr("dy", 10).text(it[2]);
});

// axis titles
var yl = svg.append("text").attr("transform", "translate(40,558) rotate(-90)")
  .attr("text-anchor", "middle").attr("font-size", 36);
yl.append("tspan").text("log (f");
yl.append("tspan").attr("font-size", 26).attr("dy", 8).text("\u2009hot gas mass");
yl.append("tspan").attr("dy", -8).text(")");

var xl = svg.append("text").attr("x", 735).attr("y", 1108)
  .attr("text-anchor", "middle").attr("font-size", 37);
xl.append("tspan").text("v");
xl.append("tspan").attr("font-size", 24).attr("dy", 6).text("LoS,\u2002Turb");
xl.append("tspan").attr("dy", -6).text("\u2002[km s");
xl.append("tspan").attr("font-size", 20).attr("dy", -11).text("\u22121");
xl.append("tspan").attr("dy", 11).text("]");
</script>
</body>
</html>
